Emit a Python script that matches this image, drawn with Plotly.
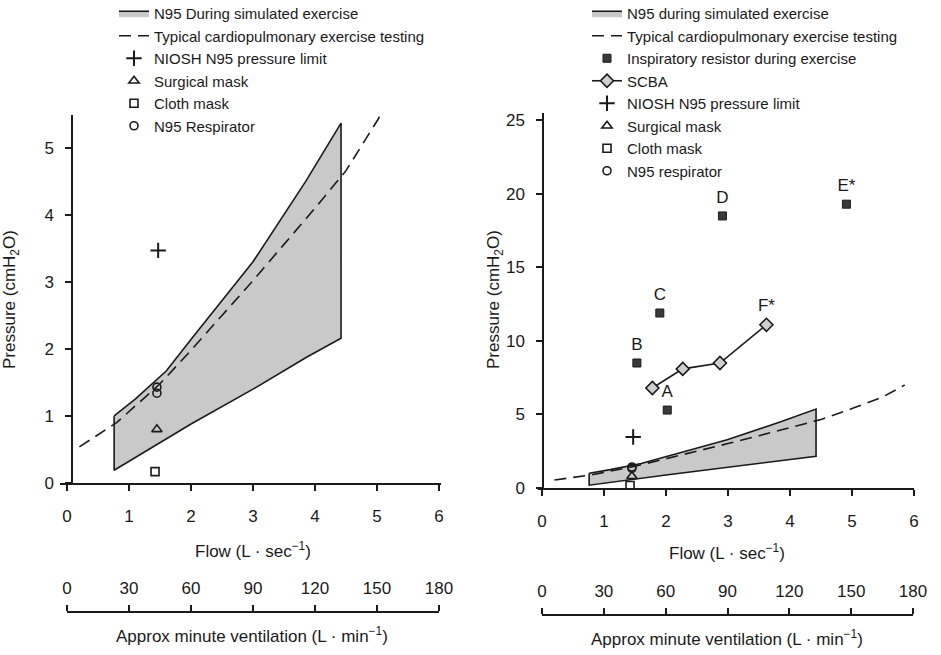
import plotly.graph_objects as go

# ---------------- data ----------------
flow_ticks = [0, 1, 2, 3, 4, 5, 6]
vent_ticks = [0, 30, 60, 90, 120, 150, 180]
p_ticks_left = [0, 1, 2, 3, 4, 5]
p_ticks_right = [0, 5, 10, 15, 20, 25]

# N95 during simulated exercise (band outline: upper edge, then lower edge back)
band_upper_x = [0.76, 1.1, 1.6, 2.05, 3.0, 3.85, 4.42]
band_upper_y = [1.0, 1.25, 1.67, 2.2, 3.3, 4.5, 5.37]
band_lower_x = [4.42, 3.87, 3.0, 2.0, 0.76]
band_lower_y = [2.16, 1.88, 1.4, 0.88, 0.19]

# Typical cardiopulmonary exercise testing
cpet_x = [0.2, 0.8, 1.5, 2.0, 2.5, 3.0, 3.5, 4.0, 4.5, 5.0, 5.5, 5.85]
cpet_y = [0.54, 0.9, 1.48, 1.98, 2.5, 3.02, 3.56, 4.1, 4.66, 5.4, 6.2, 7.0]

# single points (flow, pressure)
niosh_x, niosh_y = [1.47], [3.47]
surgical_x, surgical_y = [1.45], [0.8]
cloth_x, cloth_y = [1.42], [0.17]
n95_x, n95_y = [1.45, 1.45], [1.43, 1.34]

# right panel only
resistor_labels = ["A", "B", "C", "D", "E*"]
resistor_x = [2.02, 1.53, 1.9, 2.91, 4.91]
resistor_y = [5.3, 8.5, 11.9, 18.5, 19.3]
scba_x = [1.78, 2.27, 2.87, 3.62]
scba_y = [6.8, 8.1, 8.5, 11.1]
scba_label = "F*"

# ---------------- styling ----------------
W, H = 941, 655
BLACK = "#1a1a1a"
FONT = "Liberation Sans, Arial, Helvetica, sans-serif"


def px_x(p):
    return p / W


def px_y(p):
    return 1 - p / H


fig = go.Figure()


def add_panel(xa, ya, leg, right):
    bx = band_upper_x + band_lower_x + [band_upper_x[0]]
    by = band_upper_y + band_lower_y + [band_upper_y[0]]
    fig.add_trace(go.Scatter(
        x=bx, y=by, mode="lines", fill="toself", fillcolor="#c9c9c9",
        line=dict(color=BLACK, width=1.6),
        name="N95 during simulated exercise" if right else "N95 During simulated exercise",
        xaxis=xa, yaxis=ya, legend=leg, hoverinfo="skip"))
    fig.add_trace(go.Scatter(
        x=cpet_x, y=cpet_y, mode="lines",
        line=dict(color=BLACK, width=1.6, dash="12px,7px"),
        name="Typical cardiopulmonary exercise testing",
        xaxis=xa, yaxis=ya, legend=leg))
    if right:
        fig.add_trace(go.Scatter(
            x=resistor_x, y=resistor_y, mode="markers",
            marker=dict(symbol="square", size=8, color="#3a3a3a",
                        line=dict(color=BLACK, width=1)),
            name="Inspiratory resistor during exercise",
            xaxis=xa, yaxis=ya, legend=leg))
        fig.add_trace(go.Scatter(
            x=resistor_x, y=resistor_y, mode="markers+text", text=resistor_labels,
            marker=dict(size=13, color="rgba(0,0,0,0)"),
            textposition="top center", textfont=dict(size=17, color=BLACK),
            showlegend=False, hoverinfo="skip", xaxis=xa, yaxis=ya))
        fig.add_trace(go.Scatter(
            x=scba_x, y=scba_y, mode="lines+markers",
            line=dict(color=BLACK, width=1.6),
            marker=dict(symbol="diamond", size=10, color="#cfcfcf",
                        line=dict(color=BLACK, width=1.6)),
            name="SCBA", xaxis=xa, yaxis=ya, legend=leg))
        fig.add_trace(go.Scatter(
            x=scba_x[-1:], y=scba_y[-1:], mode="markers+text", text=[scba_label],
            marker=dict(size=13, color="rgba(0,0,0,0)"),
            textposition="top center", textfont=dict(size=17, color=BLACK),
            showlegend=False, hoverinfo="skip", xaxis=xa, yaxis=ya))
    fig.add_trace(go.Scatter(
        x=niosh_x, y=niosh_y, mode="markers",
        marker=dict(symbol="cross-thin-open", size=11, color=BLACK,
                    line=dict(color=BLACK, width=2)),
        name="NIOSH N95 pressure limit", xaxis=xa, yaxis=ya, legend=leg))
    fig.add_trace(go.Scatter(
        x=surgical_x, y=surgical_y, mode="markers",
        marker=dict(symbol="triangle-up-open", size=9, color=BLACK,
                    line=dict(color=BLACK, width=1.6)),
        name="Surgical mask", xaxis=xa, yaxis=ya, legend=leg))
    fig.add_trace(go.Scatter(
        x=cloth_x, y=cloth_y, mode="markers",
        marker=dict(symbol="square-open", size=8, color=BLACK,
                    line=dict(color=BLACK, width=1.6)),
        name="Cloth mask", xaxis=xa, yaxis=ya, legend=leg))
    fig.add_trace(go.Scatter(
        x=n95_x, y=n95_y, mode="markers",
        marker=dict(symbol="circle-open", size=8, color=BLACK,
                    line=dict(color=BLACK, width=1.6)),
        name="N95 respirator" if right else "N95 Respirator",
        xaxis=xa, yaxis=ya, legend=leg))


add_panel("x", "y", "legend", False)
add_panel("x2", "y2", "legend2", True)

# carriers for the minute-ventilation axes (invisible)
for xa, ya in (("x3", "y3"), ("x4", "y4")):
    fig.add_trace(go.Scatter(
        x=vent_ticks, y=[0] * len(vent_ticks), mode="markers",
        marker=dict(opacity=0), showlegend=False, hoverinfo="skip",
        xaxis=xa, yaxis=ya))

axis_common = dict(
    showline=True, linecolor=BLACK, linewidth=1.5, ticks="outside",
    tickcolor=BLACK, tickwidth=1.5, ticklen=6, showgrid=False, zeroline=False,
    tickfont=dict(size=17, color=BLACK, family=FONT), fixedrange=True,
)

# panel geometry (pixel-derived)
L_x0, L_x1 = 60, 441
L_top, L_bot = 115, 483
R_x0, R_x1 = 538, 914
R_top, R_bot = 113, 488

fig.update_layout(
    width=W, height=H,
    margin=dict(l=0, r=0, t=0, b=0, autoexpand=False),
    paper_bgcolor="white", plot_bgcolor="white",
    font=dict(family=FONT, size=16, color=BLACK),
    xaxis=dict(domain=[px_x(L_x0), px_x(L_x1)], range=[-0.113, 6.032],
               anchor="y", tickvals=flow_ticks, ticklabelstandoff=11, **axis_common),
    yaxis=dict(domain=[px_y(L_bot), px_y(L_top)], range=[0, 5.49],
               anchor="free", position=px_x(72), tickvals=p_ticks_left,
               ticklabelstandoff=8, **axis_common),
    xaxis2=dict(domain=[px_x(R_x0), px_x(R_x1)], range=[-0.065, 6.0],
                anchor="y2", tickvals=flow_ticks, ticklabelstandoff=11, **axis_common),
    yaxis2=dict(domain=[px_y(R_bot), px_y(R_top)], range=[0, 25.5],
                anchor="free", position=px_x(543), tickvals=p_ticks_right,
                ticklabelstandoff=8, **axis_common),
    xaxis3=dict(domain=[px_x(67), px_x(439)], range=[0, 180], anchor="free",
                position=px_y(612), side="top", tickvals=vent_ticks,
                ticklabelstandoff=4, **axis_common),
    yaxis3=dict(domain=[0, 0.02], visible=False, anchor="x3", fixedrange=True),
    xaxis4=dict(domain=[px_x(542), px_x(913)], range=[0, 180], anchor="free",
                position=px_y(615), side="top", tickvals=vent_ticks,
                ticklabelstandoff=4, **axis_common),
    yaxis4=dict(domain=[0, 0.02], visible=False, anchor="x4", fixedrange=True),
    legend=dict(x=px_x(114), xanchor="left", y=1 + 3 / H, yanchor="top",
                bgcolor="rgba(0,0,0,0)", font=dict(size=15, color=BLACK),
                tracegroupgap=0),
    legend2=dict(x=px_x(587), xanchor="left", y=1 + 3 / H, yanchor="top",
                 bgcolor="rgba(0,0,0,0)", font=dict(size=15, color=BLACK),
                 tracegroupgap=0),
)

title_font = dict(size=17, color=BLACK, family=FONT)
annotations = [
    dict(text="Flow (L · sec<sup>−1</sup>)", x=px_x(253), y=px_y(550)),
    dict(text="Flow (L · sec<sup>−1</sup>)", x=px_x(727), y=px_y(552)),
    dict(text="Approx minute ventilation (L · min<sup>−1</sup>)", x=px_x(252), y=px_y(635)),
    dict(text="Approx minute ventilation (L · min<sup>−1</sup>)", x=px_x(727), y=px_y(638)),
    dict(text="Pressure (cmH<sub>2</sub>O)", x=px_x(11), y=px_y(300), textangle=-90),
    dict(text="Pressure (cmH<sub>2</sub>O)", x=px_x(495), y=px_y(300), textangle=-90),
]
for a in annotations:
    fig.add_annotation(xref="paper", yref="paper", showarrow=False,
                       xanchor="center", yanchor="middle", font=title_font, **a)

# remove the default page margin so the 941x655 figure fills the window exactly
fig.write_html("out.html",
               config={"displayModeBar": False},
               post_script="document.body.style.margin='0';document.body.style.overflow='hidden';")
